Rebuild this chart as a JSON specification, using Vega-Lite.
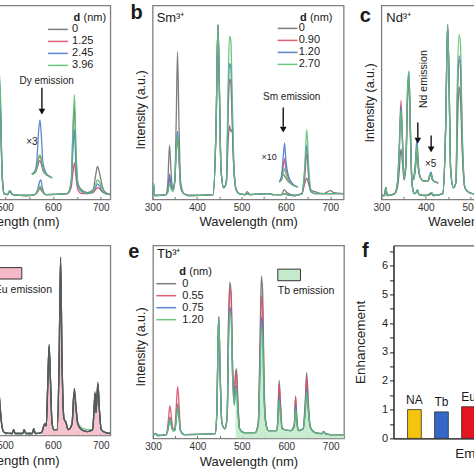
{
"$schema": "https://vega.github.io/schema/vega-lite/v6.json",
"padding": {"left": -91.65, "top": 2.4, "right": -96.65, "bottom": 0},
"config": {
  "font": "Liberation Sans",
  "view": {"stroke": "#7f7f7f", "strokeWidth": 1.3},
  "axis": {"grid": false, "labelFontSize": 10, "labelColor": "#333", "titleFontSize": 13, "titleFontWeight": "normal", "titleColor": "#222", "tickColor": "#777", "domainColor": "#777", "labelFlush": false, "labelOverlap": false},
  "text": {"color": "#1a1a1a", "font": "Liberation Sans"}
},
"datasets": {
  "A": [
    {"g":"m","w":300,"d0":2,"d1":2,"d2":2,"d3":2},
    {"g":"m","w":440,"d0":3,"d1":3,"d2":3,"d3":3},
    {"g":"m","w":449,"d0":85,"d1":85,"d2":85,"d3":85},
    {"g":"m","w":458,"d0":8,"d1":8,"d2":8,"d3":8},
    {"g":"m","w":468,"d0":30,"d1":35,"d2":38,"d3":42},
    {"g":"m","w":475,"d0":75,"d1":82,"d2":86,"d3":92},
    {"g":"m","w":482,"d0":72,"d1":75,"d2":78,"d3":82},
    {"g":"m","w":486,"d0":64,"d1":66,"d2":68,"d3":70},
    {"g":"m","w":490,"d0":48,"d1":50,"d2":53,"d3":56},
    {"g":"m","w":494,"d0":12,"d1":12,"d2":12,"d3":13},
    {"g":"m","w":498,"d0":3,"d1":3,"d2":3,"d3":3},
    {"g":"m","w":505,"d0":2.5,"d1":2.5,"d2":2.5,"d3":2.5},
    {"g":"m","w":510,"d0":4.5,"d1":4,"d2":4,"d3":4.5},
    {"g":"m","w":516,"d0":2.5,"d1":2.5,"d2":2.5,"d3":2.5},
    {"g":"m","w":545,"d0":2,"d1":2,"d2":2,"d3":2},
    {"g":"m","w":562,"d0":2.5,"d1":2.5,"d2":2.5,"d3":2.5},
    {"g":"m","w":568,"d0":4,"d1":4,"d2":5,"d3":4},
    {"g":"m","w":572,"d0":5.5,"d1":6,"d2":9,"d3":7},
    {"g":"m","w":575,"d0":5,"d1":5.5,"d2":10,"d3":6.5},
    {"g":"m","w":578,"d0":4,"d1":4,"d2":6,"d3":4.5},
    {"g":"m","w":585,"d0":2.5,"d1":2.5,"d2":2.5,"d3":2.5},
    {"g":"m","w":630,"d0":3,"d1":3,"d2":3,"d3":3},
    {"g":"m","w":638,"d0":8,"d1":6,"d2":8,"d3":9},
    {"g":"m","w":642,"d0":35,"d1":14,"d2":26,"d3":38},
    {"g":"m","w":645,"d0":48,"d1":19,"d2":36,"d3":54},
    {"g":"m","w":648,"d0":25,"d1":12,"d2":18,"d3":28},
    {"g":"m","w":652,"d0":8,"d1":5,"d2":7,"d3":9},
    {"g":"m","w":660,"d0":5,"d1":3,"d2":4,"d3":4.5},
    {"g":"m","w":672,"d0":3.5,"d1":3,"d2":3,"d3":3},
    {"g":"m","w":684,"d0":5,"d1":3.5,"d2":4,"d3":4},
    {"g":"m","w":689,"d0":12,"d1":5,"d2":6,"d3":7.5},
    {"g":"m","w":693,"d0":17,"d1":6,"d2":8,"d3":10},
    {"g":"m","w":697,"d0":14,"d1":5.5,"d2":7,"d3":9},
    {"g":"m","w":703,"d0":7,"d1":4,"d2":4,"d3":5},
    {"g":"m","w":710,"d0":3.5,"d1":3,"d2":3,"d3":3},
    {"g":"m","w":720,"d0":2.5,"d1":2.5,"d2":2.5,"d3":2.5},
    {"g":"i","w":556,"d0":13,"d1":13,"d2":13,"d3":13},
    {"g":"i","w":563,"d0":14,"d1":14,"d2":15,"d3":14},
    {"g":"i","w":567,"d0":16,"d1":17,"d2":22,"d3":18},
    {"g":"i","w":570,"d0":19,"d1":21,"d2":35,"d3":22},
    {"g":"i","w":573,"d0":20,"d1":22,"d2":41,"d3":23},
    {"g":"i","w":576,"d0":18,"d1":20,"d2":32,"d3":21},
    {"g":"i","w":579,"d0":15,"d1":16,"d2":19,"d3":16},
    {"g":"i","w":585,"d0":13,"d1":13,"d2":14,"d3":13},
    {"g":"i","w":592,"d0":12,"d1":12,"d2":12,"d3":12},
    {"g":"i","w":598,"d0":11,"d1":11,"d2":11,"d3":11}
  ],
  "B": [
    {"g":"m","w":300,"d0":2,"d1":2,"d2":2,"d3":2},
    {"g":"m","w":302,"d0":8,"d1":8,"d2":8,"d3":8},
    {"g":"m","w":304,"d0":2,"d1":2,"d2":2,"d3":2},
    {"g":"m","w":330,"d0":2.5,"d1":2.5,"d2":2.5,"d3":2.5},
    {"g":"m","w":334,"d0":8,"d1":4,"d2":4.5,"d3":3.5},
    {"g":"m","w":338,"d0":28,"d1":11,"d2":13,"d3":8},
    {"g":"m","w":342,"d0":12,"d1":6,"d2":7,"d3":5},
    {"g":"m","w":346,"d0":6,"d1":5,"d2":5,"d3":4},
    {"g":"m","w":350,"d0":9,"d1":10,"d2":11,"d3":10},
    {"g":"m","w":353,"d0":40,"d1":24,"d2":27,"d3":25},
    {"g":"m","w":356,"d0":76,"d1":32,"d2":35,"d3":33},
    {"g":"m","w":359,"d0":42,"d1":22,"d2":24,"d3":23},
    {"g":"m","w":363,"d0":9,"d1":6,"d2":7,"d3":7},
    {"g":"m","w":370,"d0":3,"d1":3,"d2":3,"d3":3},
    {"g":"m","w":380,"d0":2,"d1":2,"d2":2,"d3":2},
    {"g":"m","w":436,"d0":2.5,"d1":2.5,"d2":2.5,"d3":2.5},
    {"g":"m","w":443,"d0":40,"d1":40,"d2":40,"d3":40},
    {"g":"m","w":447,"d0":90,"d1":90,"d2":90,"d3":90},
    {"g":"m","w":450,"d0":60,"d1":60,"d2":60,"d3":60},
    {"g":"m","w":454,"d0":15,"d1":15,"d2":15,"d3":15},
    {"g":"m","w":460,"d0":6,"d1":6,"d2":6,"d3":6},
    {"g":"m","w":466,"d0":9,"d1":9,"d2":9,"d3":9},
    {"g":"m","w":470,"d0":30,"d1":45,"d2":50,"d3":60},
    {"g":"m","w":473,"d0":38,"d1":62,"d2":70,"d3":84},
    {"g":"m","w":476,"d0":35,"d1":60,"d2":68,"d3":82},
    {"g":"m","w":479,"d0":36,"d1":40,"d2":45,"d3":55},
    {"g":"m","w":483,"d0":15,"d1":15,"d2":16,"d3":18},
    {"g":"m","w":488,"d0":5,"d1":5,"d2":5,"d3":5},
    {"g":"m","w":495,"d0":3,"d1":3,"d2":3,"d3":3},
    {"g":"m","w":508,"d0":2.5,"d1":2.5,"d2":2.5,"d3":2.5},
    {"g":"m","w":513,"d0":4,"d1":3,"d2":3,"d3":3},
    {"g":"m","w":519,"d0":2.5,"d1":2.5,"d2":2.5,"d3":2.5},
    {"g":"m","w":560,"d0":3,"d1":3,"d2":3,"d3":3},
    {"g":"m","w":572,"d0":2.5,"d1":2.5,"d2":2.5,"d3":2.5},
    {"g":"m","w":590,"d0":2.5,"d1":2.5,"d2":2.5,"d3":2.5},
    {"g":"m","w":596,"d0":5,"d1":3,"d2":3,"d3":3},
    {"g":"m","w":602,"d0":3.5,"d1":2.5,"d2":2.5,"d3":2.5},
    {"g":"m","w":620,"d0":2,"d1":2,"d2":2,"d3":2},
    {"g":"m","w":636,"d0":3,"d1":3,"d2":3,"d3":3},
    {"g":"m","w":642,"d0":8,"d1":10,"d2":14,"d3":15},
    {"g":"m","w":647,"d0":11,"d1":24,"d2":28,"d3":36},
    {"g":"m","w":651,"d0":8,"d1":12,"d2":14,"d3":18},
    {"g":"m","w":656,"d0":5,"d1":4,"d2":4,"d3":5},
    {"g":"m","w":665,"d0":4,"d1":3,"d2":3,"d3":3},
    {"g":"m","w":685,"d0":3,"d1":3,"d2":3,"d3":3},
    {"g":"m","w":700,"d0":4.5,"d1":3,"d2":3,"d3":3},
    {"g":"m","w":708,"d0":3.5,"d1":3,"d2":3,"d3":3},
    {"g":"m","w":730,"d0":3,"d1":3,"d2":3,"d3":3},
    {"g":"i","w":585,"d0":9,"d1":9,"d2":9,"d3":9},
    {"g":"i","w":590,"d0":10,"d1":11,"d2":12,"d3":10},
    {"g":"i","w":594,"d0":13,"d1":17,"d2":22,"d3":14},
    {"g":"i","w":597,"d0":12,"d1":21,"d2":29,"d3":16},
    {"g":"i","w":600,"d0":11,"d1":16,"d2":20,"d3":13},
    {"g":"i","w":603,"d0":10,"d1":13,"d2":15,"d3":11},
    {"g":"i","w":606,"d0":9,"d1":11,"d2":12,"d3":10},
    {"g":"i","w":612,"d0":8,"d1":8,"d2":9,"d3":8},
    {"g":"i","w":620,"d0":7,"d1":7,"d2":7,"d3":7},
    {"g":"i","w":626,"d0":6.5,"d1":6.5,"d2":6.5,"d3":6.5}
  ],
  "C": [
    {"g":"m","w":300,"d0":2,"d1":2,"d2":2,"d3":2},
    {"g":"m","w":307,"d0":2,"d1":2,"d2":2,"d3":2},
    {"g":"m","w":310,"d0":6,"d1":6,"d2":6,"d3":6},
    {"g":"m","w":313,"d0":2,"d1":2,"d2":2,"d3":2},
    {"g":"m","w":330,"d0":3,"d1":3,"d2":3,"d3":3},
    {"g":"m","w":336,"d0":6,"d1":8,"d2":8,"d3":8},
    {"g":"m","w":340,"d0":14,"d1":25,"d2":24,"d3":23},
    {"g":"m","w":344,"d0":26,"d1":51,"d2":48,"d3":46},
    {"g":"m","w":347,"d0":20,"d1":35,"d2":33,"d3":32},
    {"g":"m","w":351,"d0":10,"d1":12,"d2":11,"d3":11},
    {"g":"m","w":355,"d0":16,"d1":18,"d2":18,"d3":18},
    {"g":"m","w":359,"d0":52,"d1":55,"d2":57,"d3":56},
    {"g":"m","w":362,"d0":62,"d1":64,"d2":66,"d3":66},
    {"g":"m","w":365,"d0":35,"d1":38,"d2":40,"d3":39},
    {"g":"m","w":369,"d0":8,"d1":8,"d2":8,"d3":8},
    {"g":"m","w":374,"d0":3,"d1":3,"d2":3,"d3":3},
    {"g":"m","w":378,"d0":3.5,"d1":3.5,"d2":3.5,"d3":3.5},
    {"g":"m","w":381,"d0":4.5,"d1":4.5,"d2":5,"d3":4.5},
    {"g":"m","w":385,"d0":2.5,"d1":2.5,"d2":2.5,"d3":2.5},
    {"g":"m","w":400,"d0":2,"d1":2,"d2":2,"d3":2},
    {"g":"m","w":410,"d0":2.5,"d1":3,"d2":3,"d3":3},
    {"g":"m","w":413,"d0":3,"d1":3.5,"d2":3.5,"d3":3.5},
    {"g":"m","w":417,"d0":2,"d1":2,"d2":2,"d3":2},
    {"g":"m","w":438,"d0":3,"d1":3,"d2":3,"d3":3},
    {"g":"m","w":445,"d0":40,"d1":40,"d2":40,"d3":40},
    {"g":"m","w":449,"d0":90,"d1":90,"d2":90,"d3":90},
    {"g":"m","w":452,"d0":65,"d1":65,"d2":65,"d3":65},
    {"g":"m","w":456,"d0":15,"d1":15,"d2":15,"d3":15},
    {"g":"m","w":462,"d0":6,"d1":6,"d2":6,"d3":6},
    {"g":"m","w":468,"d0":9,"d1":9,"d2":9,"d3":9},
    {"g":"m","w":471,"d0":35,"d1":50,"d2":52,"d3":60},
    {"g":"m","w":475,"d0":58,"d1":72,"d2":74,"d3":85},
    {"g":"m","w":478,"d0":52,"d1":68,"d2":70,"d3":80},
    {"g":"m","w":482,"d0":25,"d1":30,"d2":32,"d3":35},
    {"g":"m","w":488,"d0":6,"d1":6,"d2":6,"d3":6},
    {"g":"m","w":495,"d0":4,"d1":4,"d2":4,"d3":4},
    {"g":"m","w":505,"d0":3,"d1":3,"d2":3,"d3":3},
    {"g":"m","w":540,"d0":2.5,"d1":2.5,"d2":2.5,"d3":2.5},
    {"g":"m","w":600,"d0":3,"d1":3,"d2":3,"d3":3},
    {"g":"m","w":642,"d0":5,"d1":6,"d2":6,"d3":7},
    {"g":"m","w":647,"d0":15,"d1":20,"d2":22,"d3":25},
    {"g":"m","w":652,"d0":5,"d1":6,"d2":6,"d3":7},
    {"g":"m","w":660,"d0":3,"d1":3,"d2":3,"d3":3},
    {"g":"m","w":730,"d0":3,"d1":3,"d2":3,"d3":3},
    {"g":"i","w":372,"d0":10,"d1":10,"d2":10,"d3":10},
    {"g":"i","w":376,"d0":14,"d1":16,"d2":17,"d3":15},
    {"g":"i","w":380,"d0":24,"d1":28,"d2":31,"d3":28},
    {"g":"i","w":383,"d0":16,"d1":18,"d2":19,"d3":18},
    {"g":"i","w":388,"d0":11,"d1":11,"d2":11,"d3":11},
    {"g":"i","w":395,"d0":9.5,"d1":9.5,"d2":9.5,"d3":9.5},
    {"g":"i","w":405,"d0":9.5,"d1":9.5,"d2":9.5,"d3":9.5},
    {"g":"i","w":409,"d0":12,"d1":12,"d2":13,"d3":12},
    {"g":"i","w":412,"d0":13,"d1":13,"d2":14,"d3":13},
    {"g":"i","w":415,"d0":10,"d1":10,"d2":10.5,"d3":10},
    {"g":"i","w":421,"d0":9,"d1":9,"d2":9,"d3":9},
    {"g":"i","w":428,"d0":8.5,"d1":8.5,"d2":8.5,"d3":8.5}
  ],
  "D": [
    {"g":"m","w":300,"d0":1,"d1":1,"d2":1,"d3":1},
    {"g":"m","w":440,"d0":2,"d1":2,"d2":2,"d3":2},
    {"g":"m","w":449,"d0":55,"d1":55,"d2":55,"d3":55},
    {"g":"m","w":458,"d0":5,"d1":5,"d2":5,"d3":5},
    {"g":"m","w":468,"d0":20,"d1":20,"d2":20,"d3":20},
    {"g":"m","w":475,"d0":60,"d1":60,"d2":60,"d3":60},
    {"g":"m","w":482,"d0":45,"d1":45,"d2":45,"d3":45},
    {"g":"m","w":486,"d0":28,"d1":28,"d2":28,"d3":28},
    {"g":"m","w":490,"d0":14,"d1":14,"d2":14,"d3":14},
    {"g":"m","w":494,"d0":4,"d1":4,"d2":4,"d3":4},
    {"g":"m","w":499,"d0":1.5,"d1":1.5,"d2":1.5,"d3":1.5},
    {"g":"m","w":515,"d0":1,"d1":1,"d2":1,"d3":1},
    {"g":"m","w":518,"d0":3,"d1":3,"d2":3,"d3":3},
    {"g":"m","w":521,"d0":1,"d1":1,"d2":1,"d3":1},
    {"g":"m","w":537,"d0":1,"d1":1,"d2":1,"d3":1},
    {"g":"m","w":540,"d0":3,"d1":3,"d2":3,"d3":3},
    {"g":"m","w":543,"d0":1,"d1":1,"d2":1,"d3":1},
    {"g":"m","w":557,"d0":1,"d1":1,"d2":1,"d3":1},
    {"g":"m","w":560,"d0":3.5,"d1":3.5,"d2":3.5,"d3":3.5},
    {"g":"m","w":563,"d0":1,"d1":1,"d2":1,"d3":1},
    {"g":"m","w":576,"d0":1.5,"d1":1.5,"d2":1.5,"d3":1.5},
    {"g":"m","w":583,"d0":6,"d1":6,"d2":6,"d3":6},
    {"g":"m","w":586,"d0":5,"d1":5,"d2":5,"d3":5},
    {"g":"m","w":589,"d0":25,"d1":25,"d2":25,"d3":25},
    {"g":"m","w":592,"d0":48,"d1":47,"d2":47,"d3":46},
    {"g":"m","w":595,"d0":28,"d1":28,"d2":28,"d3":28},
    {"g":"m","w":598,"d0":7,"d1":7,"d2":7,"d3":7},
    {"g":"m","w":602,"d0":3,"d1":3,"d2":3,"d3":3},
    {"g":"m","w":609,"d0":3,"d1":3,"d2":3,"d3":3},
    {"g":"m","w":613,"d0":40,"d1":40,"d2":40,"d3":40},
    {"g":"m","w":616,"d0":94,"d1":93,"d2":93,"d3":92},
    {"g":"m","w":619,"d0":40,"d1":40,"d2":40,"d3":40},
    {"g":"m","w":623,"d0":9,"d1":9,"d2":9,"d3":9},
    {"g":"m","w":627,"d0":7,"d1":7,"d2":7,"d3":7},
    {"g":"m","w":632,"d0":3,"d1":3,"d2":3,"d3":3},
    {"g":"m","w":640,"d0":6,"d1":6,"d2":6,"d3":6.5},
    {"g":"m","w":643,"d0":20,"d1":19,"d2":19,"d3":16},
    {"g":"m","w":645,"d0":24.7,"d1":23,"d2":23,"d3":17.7},
    {"g":"m","w":648,"d0":16,"d1":15,"d2":15,"d3":14},
    {"g":"m","w":652,"d0":6,"d1":6,"d2":6,"d3":7},
    {"g":"m","w":660,"d0":3,"d1":3,"d2":3,"d3":4},
    {"g":"m","w":672,"d0":2,"d1":2,"d2":2,"d3":3},
    {"g":"m","w":683,"d0":3,"d1":3,"d2":3,"d3":3},
    {"g":"m","w":686,"d0":14,"d1":14,"d2":14,"d3":14},
    {"g":"m","w":688,"d0":23,"d1":22,"d2":22,"d3":22},
    {"g":"m","w":690,"d0":12,"d1":12,"d2":12,"d3":12},
    {"g":"m","w":692,"d0":20,"d1":20,"d2":20,"d3":20},
    {"g":"m","w":694,"d0":28,"d1":27,"d2":27,"d3":27},
    {"g":"m","w":697,"d0":14,"d1":14,"d2":14,"d3":14},
    {"g":"m","w":701,"d0":3,"d1":3,"d2":3,"d3":3},
    {"g":"m","w":710,"d0":1.5,"d1":1.5,"d2":1.5,"d3":1.5},
    {"g":"m","w":720,"d0":1,"d1":1,"d2":1,"d3":1}
  ],
  "E": [
    {"g":"m","w":300,"d0":1.5,"d1":1.5,"d2":1.5,"d3":1.5},
    {"g":"m","w":306,"d0":2.5,"d1":2.5,"d2":2.5,"d3":2.5},
    {"g":"m","w":310,"d0":1.5,"d1":1.5,"d2":1.5,"d3":1.5},
    {"g":"m","w":330,"d0":2,"d1":2,"d2":2,"d3":2},
    {"g":"m","w":334,"d0":5,"d1":8,"d2":5,"d3":5},
    {"g":"m","w":338,"d0":11,"d1":17,"d2":10,"d3":10},
    {"g":"m","w":341,"d0":8,"d1":12,"d2":7,"d3":7},
    {"g":"m","w":345,"d0":4,"d1":5,"d2":4,"d3":4},
    {"g":"m","w":349,"d0":4,"d1":5,"d2":4,"d3":4},
    {"g":"m","w":352,"d0":10,"d1":15,"d2":9,"d3":9},
    {"g":"m","w":355.5,"d0":18,"d1":27,"d2":16,"d3":16},
    {"g":"m","w":358.5,"d0":12,"d1":18,"d2":11,"d3":11},
    {"g":"m","w":362,"d0":4,"d1":4,"d2":4,"d3":4},
    {"g":"m","w":370,"d0":2,"d1":2,"d2":2,"d3":2},
    {"g":"m","w":440,"d0":2.5,"d1":2.5,"d2":2.5,"d3":2.5},
    {"g":"m","w":444,"d0":15,"d1":15,"d2":15,"d3":15},
    {"g":"m","w":446,"d0":45,"d1":45,"d2":45,"d3":45},
    {"g":"m","w":448,"d0":63,"d1":63,"d2":63,"d3":63},
    {"g":"m","w":451,"d0":35,"d1":35,"d2":35,"d3":35},
    {"g":"m","w":455,"d0":8,"d1":8,"d2":8,"d3":8},
    {"g":"m","w":462,"d0":5,"d1":5,"d2":5,"d3":5},
    {"g":"m","w":467,"d0":12,"d1":12,"d2":11,"d3":11},
    {"g":"m","w":470,"d0":60,"d1":58,"d2":50,"d3":48},
    {"g":"m","w":473,"d0":81,"d1":78,"d2":68,"d3":66},
    {"g":"m","w":476,"d0":75,"d1":72,"d2":64,"d3":62},
    {"g":"m","w":479,"d0":40,"d1":38,"d2":34,"d3":33},
    {"g":"m","w":483,"d0":22,"d1":21,"d2":18,"d3":17},
    {"g":"m","w":486,"d0":34,"d1":33,"d2":26,"d3":25},
    {"g":"m","w":488,"d0":36,"d1":34,"d2":27,"d3":26},
    {"g":"m","w":491,"d0":20,"d1":19,"d2":15,"d3":14},
    {"g":"m","w":495,"d0":5,"d1":5,"d2":5,"d3":5},
    {"g":"m","w":505,"d0":3,"d1":3,"d2":3,"d3":3},
    {"g":"m","w":530,"d0":3,"d1":3,"d2":3,"d3":3},
    {"g":"m","w":537,"d0":8,"d1":8,"d2":7,"d3":7},
    {"g":"m","w":541,"d0":50,"d1":45,"d2":38,"d3":35},
    {"g":"m","w":544,"d0":84,"d1":74,"d2":63,"d3":58},
    {"g":"m","w":547,"d0":75,"d1":66,"d2":56,"d3":52},
    {"g":"m","w":550,"d0":30,"d1":27,"d2":23,"d3":21},
    {"g":"m","w":554,"d0":8,"d1":8,"d2":8,"d3":8},
    {"g":"m","w":560,"d0":4,"d1":4,"d2":4,"d3":4},
    {"g":"m","w":578,"d0":4,"d1":4,"d2":4,"d3":4},
    {"g":"m","w":581,"d0":10,"d1":9,"d2":8,"d3":8},
    {"g":"m","w":584,"d0":30,"d1":28,"d2":22,"d3":20},
    {"g":"m","w":587,"d0":18,"d1":17,"d2":13,"d3":12},
    {"g":"m","w":591,"d0":5,"d1":5,"d2":5,"d3":5},
    {"g":"m","w":610,"d0":4,"d1":4,"d2":4,"d3":4},
    {"g":"m","w":618,"d0":7,"d1":7,"d2":6,"d3":6},
    {"g":"m","w":621,"d0":22,"d1":21,"d2":17,"d3":15},
    {"g":"m","w":624,"d0":10,"d1":9,"d2":8,"d3":7},
    {"g":"m","w":628,"d0":4,"d1":4,"d2":4,"d3":4},
    {"g":"m","w":638,"d0":5,"d1":5,"d2":5,"d3":5},
    {"g":"m","w":643,"d0":20,"d1":18,"d2":15,"d3":14},
    {"g":"m","w":646,"d0":34,"d1":32,"d2":26,"d3":24},
    {"g":"m","w":649,"d0":22,"d1":20,"d2":17,"d3":16},
    {"g":"m","w":654,"d0":6,"d1":6,"d2":6,"d3":6},
    {"g":"m","w":665,"d0":3,"d1":3,"d2":3,"d3":3},
    {"g":"m","w":680,"d0":2.5,"d1":2.5,"d2":2.5,"d3":2.5},
    {"g":"m","w":684,"d0":3.5,"d1":3.5,"d2":3.5,"d3":3.5},
    {"g":"m","w":688,"d0":2.5,"d1":2.5,"d2":2.5,"d3":2.5},
    {"g":"m","w":700,"d0":2,"d1":2,"d2":2,"d3":2},
    {"g":"m","w":730,"d0":2,"d1":2,"d2":2,"d3":2}
  ],
  "F": [
    {"ion":"NA","e":1.0},
    {"ion":"Tb","e":0.92},
    {"ion":"Eu","e":1.1},
    {"ion":"Sm","e":2.9},
    {"ion":"Dy","e":2.4},
    {"ion":"Nd","e":6.0}
  ]
},
"spacing": 10,
"resolve": {"scale": {"x": "independent", "y": "independent", "color": "independent"}, "legend": {"color": "independent"}, "axis": {"x": "independent", "y": "independent"}},
"vconcat": [
 {
  "spacing": 18.3,
  "resolve": {"scale": {"x": "independent", "y": "independent", "color": "independent"}, "legend": {"color": "independent"}, "axis": {"x": "independent", "y": "independent"}},
  "hconcat": [
   {
    "width": 201, "height": 194,
    "data": {"name": "A"},
    "layer": [
     {"transform": [{"fold": ["d0","d1","d2","d3"], "as": ["k","v"]}],
      "mark": {"type": "line", "interpolate": "monotone", "strokeWidth": 1.3, "opacity": 0.9, "clip": true},
      "encoding": {
        "x": {"field": "w", "type": "quantitative", "scale": {"domain": [300,720], "nice": false, "zero": false},
              "axis": {"title": "Wavelength (nm)", "values": [500,550,600,650,700], "tickCount": 30, "labelExpr": "datum.value % 100 === 0 ? datum.label : ''", "tickSize": -3, "labelPadding": 6.5, "titlePadding": 3, "domain": false}},
        "y": {"field": "v", "type": "quantitative", "scale": {"domain": [0,100], "nice": false}, "axis": null},
        "color": {"field": "k", "type": "nominal", "scale": {"domain": ["d0","d1","d2","d3"], "range": ["#6f6f6f","#d9506b","#4b7cc9","#5cbf74"]},
                  "legend": {"title": null, "orient": "none", "legendX": 137.7, "legendY": 17.5, "symbolType": "M-1,0H2.6", "symbolSize": 121, "symbolStrokeWidth": 1.5, "labelFontSize": 11, "labelOffset": 12, "rowPadding": 0, "padding": 0, "labelColor": "#222",
                             "labelExpr": "datum.label === 'd0' ? '0' : datum.label === 'd1' ? '1.25' : datum.label === 'd2' ? '2.45' : '3.96'"}},
        "detail": {"field": "g", "type": "nominal"}}},
     {"data": {"values": [{}]}, "mark": {"type": "text", "text": "Dy emission", "fontSize": 10, "baseline": "alphabetic", "align": "center"},
      "encoding": {"x": {"datum": 587}, "y": {"datum": 59.3, "axis": null}}},
     {"data": {"values": [{}]}, "mark": {"type": "rule", "strokeWidth": 1.4, "color": "#111"},
      "encoding": {"x": {"datum": 577}, "y": {"datum": 57.5, "axis": null}, "y2": {"datum": 46.5}}},
     {"data": {"values": [{}]}, "mark": {"type": "point", "shape": "triangle-down", "filled": true, "size": 45, "color": "#111", "opacity": 1},
      "encoding": {"x": {"datum": 577}, "y": {"datum": 45.2, "axis": null}}},
     {"data": {"values": [{}]}, "mark": {"type": "text", "text": "×3", "fontSize": 10, "baseline": "alphabetic", "align": "center"},
      "encoding": {"x": {"datum": 556}, "y": {"datum": 28, "axis": null}}},
     {"data": {"values": [{}]}, "mark": {"type": "text", "text": "d", "fontSize": 11, "fontWeight": "bold", "baseline": "alphabetic", "align": "left"},
      "encoding": {"x": {"datum": 643}, "y": {"datum": 92.1, "axis": null}}},
     {"data": {"values": [{}]}, "mark": {"type": "text", "text": "(nm)", "fontSize": 11, "baseline": "alphabetic", "align": "left"},
      "encoding": {"x": {"datum": 664}, "y": {"datum": 92.1, "axis": null}}}
    ]
   },
   {
    "spacing": 13.75,
    "resolve": {"scale": {"x": "independent", "y": "independent", "color": "independent"}, "legend": {"color": "independent"}, "axis": {"x": "independent", "y": "independent"}},
    "hconcat": [
     {
      "width": 191, "height": 194,
      "data": {"name": "B"},
      "layer": [
       {"transform": [{"fold": ["d0","d1","d2","d3"], "as": ["k","v"]}],
        "mark": {"type": "line", "interpolate": "monotone", "strokeWidth": 1.3, "opacity": 0.9, "clip": true},
        "encoding": {
          "x": {"field": "w", "type": "quantitative", "scale": {"domain": [300,730], "nice": false, "zero": false},
                "axis": {"title": "Wavelength (nm)", "values": [300,350,400,450,500,550,600,650,700], "tickCount": 30, "labelExpr": "datum.value % 100 === 0 ? datum.label : ''", "tickSize": -3, "labelPadding": 6.5, "titlePadding": 3, "domain": false}},
          "y": {"field": "v", "type": "quantitative", "scale": {"domain": [0,100], "nice": false},
                "axis": {"title": "Intensity (a.u.)", "labels": false, "ticks": false, "domain": false, "titlePadding": 5, "titleFontSize": 12.5, "titleY": 104}},
          "color": {"field": "k", "type": "nominal", "scale": {"domain": ["d0","d1","d2","d3"], "range": ["#6f6f6f","#d9506b","#4b7cc9","#5cbf74"]},
                    "legend": {"title": null, "orient": "none", "legendX": 124, "legendY": 16.5, "symbolType": "M-1,0H2.6", "symbolSize": 121, "symbolStrokeWidth": 1.5, "labelFontSize": 11, "labelOffset": 9, "rowPadding": 0, "padding": 0, "labelColor": "#222",
                               "labelExpr": "datum.label === 'd0' ? '0' : datum.label === 'd1' ? '0.90' : datum.label === 'd2' ? '1.20' : '2.70'"}},
          "detail": {"field": "g", "type": "nominal"}}},
       {"data": {"values": [{}]}, "mark": {"type": "text", "text": "b", "fontSize": 20, "fontWeight": "bold", "baseline": "alphabetic", "align": "center"},
        "encoding": {"x": {"datum": 264}, "y": {"datum": 92.8}}},
       {"data": {"values": [{}]}, "mark": {"type": "text", "text": "Sm³⁺", "fontSize": 13, "baseline": "alphabetic", "align": "left"},
        "encoding": {"x": {"datum": 309}, "y": {"datum": 91.2}}},
       {"data": {"values": [{}]}, "mark": {"type": "text", "text": "d", "fontSize": 11, "fontWeight": "bold", "baseline": "alphabetic", "align": "left"},
        "encoding": {"x": {"datum": 631.6}, "y": {"datum": 92.1}}},
       {"data": {"values": [{}]}, "mark": {"type": "text", "text": "(nm)", "fontSize": 11, "baseline": "alphabetic", "align": "left"},
        "encoding": {"x": {"datum": 654}, "y": {"datum": 92.1}}},
       {"data": {"values": [{}]}, "mark": {"type": "text", "text": "Sm emission", "fontSize": 10, "baseline": "alphabetic", "align": "center"},
        "encoding": {"x": {"datum": 613}, "y": {"datum": 51}}},
       {"data": {"values": [{}]}, "mark": {"type": "rule", "strokeWidth": 1.4, "color": "#111"},
        "encoding": {"x": {"datum": 594}, "y": {"datum": 47.4}, "y2": {"datum": 37.5}}},
       {"data": {"values": [{}]}, "mark": {"type": "point", "shape": "triangle-down", "filled": true, "size": 45, "color": "#111", "opacity": 1},
        "encoding": {"x": {"datum": 594}, "y": {"datum": 36}}},
       {"data": {"values": [{}]}, "mark": {"type": "text", "text": "×10", "fontSize": 9, "baseline": "alphabetic", "align": "center"},
        "encoding": {"x": {"datum": 562}, "y": {"datum": 20.5}}}
      ]
     },
     {
      "width": 191, "height": 194,
      "data": {"name": "C"},
      "layer": [
       {"transform": [{"fold": ["d0","d1","d2","d3"], "as": ["k","v"]}],
        "mark": {"type": "line", "interpolate": "monotone", "strokeWidth": 1.3, "opacity": 0.9, "clip": true},
        "encoding": {
          "x": {"field": "w", "type": "quantitative", "scale": {"domain": [300,730], "nice": false, "zero": false},
                "axis": {"title": "Wavelength (nm)", "values": [300,350,400,450,500,550,600,650,700], "tickCount": 30, "labelExpr": "datum.value % 100 === 0 ? datum.label : ''", "tickSize": -3, "labelPadding": 6.5, "titlePadding": 3, "domain": false}},
          "y": {"field": "v", "type": "quantitative", "scale": {"domain": [0,100], "nice": false},
                "axis": {"title": "Intensity (a.u.)", "labels": false, "ticks": false, "domain": false, "titlePadding": 5, "titleFontSize": 12.5}},
          "color": {"field": "k", "type": "nominal", "scale": {"domain": ["d0","d1","d2","d3"], "range": ["#6f6f6f","#d9506b","#4b7cc9","#5cbf74"]}, "legend": null},
          "detail": {"field": "g", "type": "nominal"}}},
       {"data": {"values": [{}]}, "mark": {"type": "text", "text": "c", "fontSize": 20, "fontWeight": "bold", "baseline": "alphabetic", "align": "center"},
        "encoding": {"x": {"datum": 264}, "y": {"datum": 91.2}}},
       {"data": {"values": [{}]}, "mark": {"type": "text", "text": "Nd³⁺", "fontSize": 13, "baseline": "alphabetic", "align": "left"},
        "encoding": {"x": {"datum": 311}, "y": {"datum": 91.2}}},
       {"data": {"values": [{}]}, "mark": {"type": "text", "text": "Nd emission", "fontSize": 10.5, "baseline": "middle", "align": "center", "angle": 270},
        "encoding": {"x": {"datum": 396}, "y": {"datum": 62}}},
       {"data": {"values": [{}]}, "mark": {"type": "rule", "strokeWidth": 1.4, "color": "#111"},
        "encoding": {"x": {"datum": 382}, "y": {"datum": 39.7}, "y2": {"datum": 31}}},
       {"data": {"values": [{}]}, "mark": {"type": "point", "shape": "triangle-down", "filled": true, "size": 45, "color": "#111", "opacity": 1},
        "encoding": {"x": {"datum": 382}, "y": {"datum": 30.3}}},
       {"data": {"values": [{}]}, "mark": {"type": "rule", "strokeWidth": 1.4, "color": "#111"},
        "encoding": {"x": {"datum": 412}, "y": {"datum": 33}, "y2": {"datum": 26.5}}},
       {"data": {"values": [{}]}, "mark": {"type": "point", "shape": "triangle-down", "filled": true, "size": 45, "color": "#111", "opacity": 1},
        "encoding": {"x": {"datum": 412}, "y": {"datum": 25.8}}},
       {"data": {"values": [{}]}, "mark": {"type": "text", "text": "×5", "fontSize": 10, "baseline": "alphabetic", "align": "center"},
        "encoding": {"x": {"datum": 411}, "y": {"datum": 16.5}}}
      ]
     }
    ]
   }
  ]
 },
 {
  "spacing": 15.65,
  "resolve": {"scale": {"x": "independent", "y": "independent", "color": "independent"}, "legend": {"color": "independent"}, "axis": {"x": "independent", "y": "independent"}},
  "hconcat": [
   {
    "width": 201, "height": 190,
    "data": {"name": "D"},
    "layer": [
     {"transform": [{"filter": "datum.g === 'm' && datum.w >= 575"}],
      "mark": {"type": "area", "interpolate": "monotone", "color": "#f5b8c6", "opacity": 0.85, "clip": true},
      "encoding": {"x": {"field": "w", "type": "quantitative"}, "y": {"field": "d0", "type": "quantitative", "axis": null}}},
     {"transform": [{"fold": ["d3","d0","d1","d2"], "as": ["k","v"]}],
      "mark": {"type": "line", "interpolate": "monotone", "strokeWidth": 1.3, "opacity": 0.9, "clip": true},
      "encoding": {
        "x": {"field": "w", "type": "quantitative", "scale": {"domain": [300,720], "nice": false, "zero": false},
              "axis": {"title": "Wavelength (nm)", "values": [500,550,600,650,700], "tickCount": 30, "labelExpr": "datum.value % 100 === 0 ? datum.label : ''", "tickSize": -3, "labelPadding": 8.5, "titlePadding": 4, "domain": false}},
        "y": {"field": "v", "type": "quantitative", "scale": {"domain": [0,100], "nice": false}, "axis": null},
        "color": {"field": "k", "type": "nominal", "scale": {"domain": ["d0","d1","d2","d3"], "range": ["#4d4d4d","#5a5a5a","#555a62","#5cbf74"]}, "legend": null},
        "detail": {"field": "g", "type": "nominal"}}},
     {"data": {"values": [{}]}, "mark": {"type": "rect", "fill": "#f5b8c6", "stroke": "#333", "strokeWidth": 1},
      "encoding": {"x": {"datum": 470}, "x2": {"datum": 535}, "y": {"datum": 82.3, "axis": null}, "y2": {"datum": 88.3}}},
     {"data": {"values": [{}]}, "mark": {"type": "text", "text": "Eu emission", "fontSize": 10.5, "baseline": "alphabetic", "align": "right"},
      "encoding": {"x": {"datum": 598}, "y": {"datum": 75, "axis": null}}}
    ]
   },
   {
    "spacing": 7.5,
    "resolve": {"scale": {"x": "independent", "y": "independent", "color": "independent"}, "legend": {"color": "independent"}, "axis": {"x": "independent", "y": "independent"}},
    "hconcat": [
     {
      "width": 191, "height": 193,
      "data": {"name": "E"},
      "layer": [
       {"transform": [{"filter": "datum.g === 'm' && datum.w >= 485"}],
        "mark": {"type": "area", "interpolate": "monotone", "color": "#c4ebcc", "opacity": 0.9, "clip": true},
        "encoding": {"x": {"field": "w", "type": "quantitative"}, "y": {"field": "d0", "type": "quantitative"}}},
       {"transform": [{"fold": ["d0","d1","d2","d3"], "as": ["k","v"]}],
        "mark": {"type": "line", "interpolate": "monotone", "strokeWidth": 1.3, "opacity": 0.9, "clip": true},
        "encoding": {
          "x": {"field": "w", "type": "quantitative", "scale": {"domain": [300,730], "nice": false, "zero": false},
                "axis": {"title": "Wavelength (nm)", "values": [300,350,400,450,500,550,600,650,700], "tickCount": 30, "labelExpr": "datum.value % 100 === 0 ? datum.label : ''", "tickSize": -3, "labelPadding": 6.5, "titlePadding": 4, "domain": false}},
          "y": {"field": "v", "type": "quantitative", "scale": {"domain": [0,100], "nice": false},
                "axis": {"title": "Intensity (a.u.)", "labels": false, "ticks": false, "domain": false, "titlePadding": 5, "titleFontSize": 12.5, "titleY": 101}},
          "color": {"field": "k", "type": "nominal", "scale": {"domain": ["d0","d1","d2","d3"], "range": ["#6f6f6f","#d9506b","#4b7cc9","#5cbf74"]},
                    "legend": {"title": null, "orient": "none", "legendX": 2.3, "legendY": 31.8, "symbolType": "M-1,0H2.6", "symbolSize": 121, "symbolStrokeWidth": 1.5, "labelFontSize": 11, "labelOffset": 14, "rowPadding": 0, "padding": 0, "labelColor": "#222",
                               "labelExpr": "datum.label === 'd0' ? '0' : datum.label === 'd1' ? '0.55' : datum.label === 'd2' ? '0.75' : '1.20'"}},
          "detail": {"field": "g", "type": "nominal"}}},
       {"data": {"values": [{}]}, "mark": {"type": "text", "text": "e", "fontSize": 20, "fontWeight": "bold", "baseline": "alphabetic", "align": "center"},
        "encoding": {"x": {"datum": 257}, "y": {"datum": 93.3}}},
       {"data": {"values": [{}]}, "mark": {"type": "text", "text": "Tb³⁺", "fontSize": 13, "baseline": "alphabetic", "align": "left"},
        "encoding": {"x": {"datum": 309}, "y": {"datum": 93.3}}},
       {"data": {"values": [{}]}, "mark": {"type": "text", "text": "d", "fontSize": 11, "fontWeight": "bold", "baseline": "alphabetic", "align": "left"},
        "encoding": {"x": {"datum": 359}, "y": {"datum": 84.6}}},
       {"data": {"values": [{}]}, "mark": {"type": "text", "text": "(nm)", "fontSize": 11, "baseline": "alphabetic", "align": "left"},
        "encoding": {"x": {"datum": 381.7}, "y": {"datum": 84.6}}},
       {"data": {"values": [{}]}, "mark": {"type": "rect", "fill": "#c4ebcc", "stroke": "#333", "strokeWidth": 1},
        "encoding": {"x": {"datum": 581}, "x2": {"datum": 632}, "y": {"datum": 81.7}, "y2": {"datum": 87.7}}},
       {"data": {"values": [{}]}, "mark": {"type": "text", "text": "Tb emission", "fontSize": 10.5, "baseline": "alphabetic", "align": "left"},
        "encoding": {"x": {"datum": 581}, "y": {"datum": 75}}}
      ]
     },
     {
      "width": 177, "height": 193,
      "data": {"name": "F"},
      "view": {"stroke": "#333", "strokeWidth": 1},
      "layer": [
       {"mark": {"type": "bar", "stroke": "#333", "strokeWidth": 0.8},
        "encoding": {
          "x": {"field": "ion", "type": "nominal", "sort": null, "scale": {"paddingInner": 0.49, "paddingOuter": 0.52},
                "axis": {"title": "Emission", "labels": false, "ticks": false, "domain": true, "domainColor": "#222", "titlePadding": 8, "titleFontSize": 13.5}},
          "y": {"field": "e", "type": "quantitative", "scale": {"domain": [0,6.7], "nice": false},
                "axis": {"title": "Enhancement", "values": [0,0.5,1,1.5,2,2.5,3,3.5,4,4.5,5,5.5,6,6.5], "tickCount": 30, "labelExpr": "datum.value % 1 === 0 ? format(datum.value, 'd') : ''", "labelOverlap": false, "labelBound": false, "tickSize": 4, "labelPadding": 2, "titlePadding": 14, "domain": true, "domainColor": "#222", "tickColor": "#222", "labelFontSize": 11, "labelColor": "#222", "titleFontSize": 13.5}},
          "color": {"field": "ion", "type": "nominal", "scale": {"domain": ["NA","Tb","Eu","Sm","Dy","Nd"], "range": ["#f6c40c","#3567c6","#e3161f","#56b04f","#8a4fa3","#f08a24"]}, "legend": null}}},
       {"mark": {"type": "text", "baseline": "alphabetic", "dy": -6, "fontSize": 12},
        "encoding": {"x": {"field": "ion", "type": "nominal", "sort": null}, "y": {"field": "e", "type": "quantitative"}, "text": {"field": "ion"}}},
       {"data": {"values": [{}]}, "mark": {"type": "text", "text": "f", "fontSize": 20, "fontWeight": "bold", "baseline": "alphabetic", "align": "center", "dx": -49},
        "encoding": {"x": {"datum": "NA"}, "y": {"datum": 6.28}}}
      ]
     }
    ]
   }
  ]
 }
]
}
